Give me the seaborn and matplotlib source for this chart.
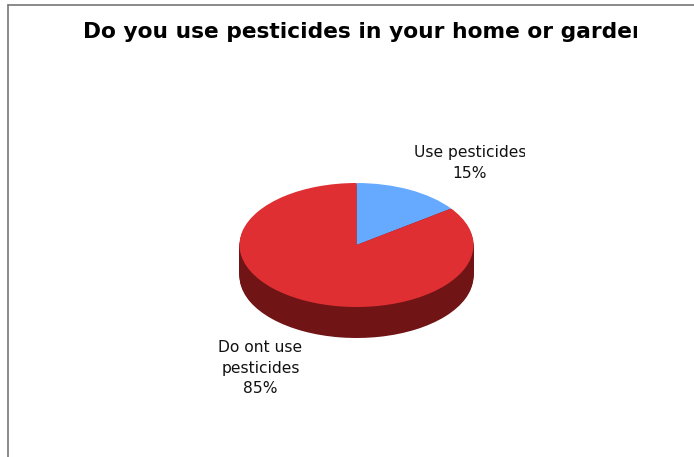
import matplotlib
matplotlib.use("Agg")
import matplotlib.pyplot as plt
import seaborn as sns
from matplotlib.patches import Rectangle

categories = ["Use pesticides", "Do ont use\npesticides"]
shares = [15, 85]
title = "Do you use pesticides in your home or garden?"

W, H = 694, 457
CX, CY, RX, RY, DEPTH = 356.5, 245, 117, 62, 31

sns.set_theme(style="white")
plt.rcParams["font.family"] = ["DejaVu Sans"]
top_colors = sns.color_palette(["#66AAFF", "#E02F33"])
side_colors = sns.color_palette(["#701415", "#701415"])

fig = plt.figure(figsize=(W / 100, H / 100), dpi=100, facecolor="white")
ax = fig.add_axes([0, 0, 1, 1])
for d in range(DEPTH, 0, -1):
    ax.pie(shares, colors=side_colors, startangle=90, counterclock=False,
           center=(0, -d / RY), wedgeprops={"linewidth": 0})
ax.pie(shares, colors=top_colors, startangle=90, counterclock=False,
       wedgeprops={"linewidth": 0})
ax.set_aspect("auto")
ax.set_xlim(-CX / RX, (W - CX) / RX)
ax.set_ylim((CY - H) / RY, CY / RY)
ax.axis("off")

ov = fig.add_axes([0, 0, 1, 1], facecolor="none")
ov.set_xlim(0, W)
ov.set_ylim(H, 0)
ov.axis("off")
ov.plot([8, W], [4.5, 4.5], color="#777777", lw=1.2, clip_on=False)
ov.plot([8, 8], [4.5, H], color="#777777", lw=1.2, clip_on=False)

t = ov.text(83, 32, title, fontsize=15.7, fontweight="bold", color="black",
            ha="left", va="center", clip_on=True)
t.set_clip_path(Rectangle((0, 0), 637, H, transform=ov.transData))

pct = [f"{v}%" for v in shares]
u = ov.text(470, 163, f"{categories[0]}\n{pct[0]}", fontsize=11.2, color="#111111",
            ha="center", va="center", linespacing=1.47, clip_on=True)
u.set_clip_path(Rectangle((0, 0), 525, H, transform=ov.transData))
ov.text(260.5, 368, f"{categories[1]}\n{pct[1]}", fontsize=11.2, color="#111111",
        ha="center", va="center", linespacing=1.47)

fig.savefig("out.png", dpi=100, facecolor="white")
